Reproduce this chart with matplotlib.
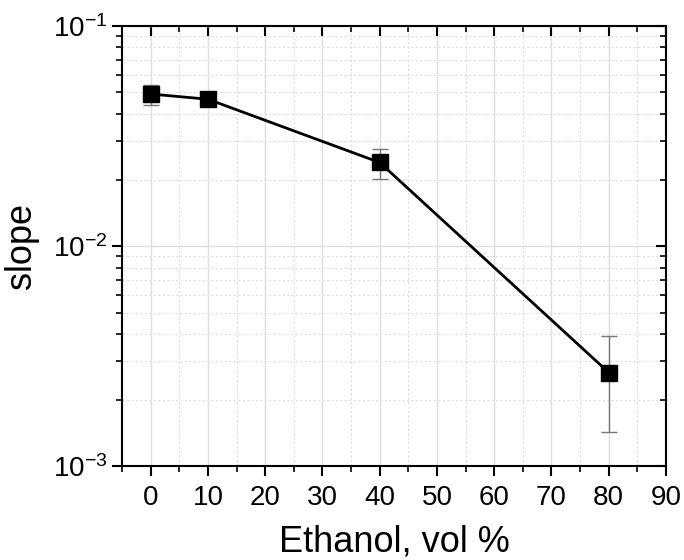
import numpy as np
import matplotlib
matplotlib.use("Agg")
import matplotlib.pyplot as plt
from matplotlib.ticker import MultipleLocator, LogLocator, NullFormatter

plt.rcParams['font.family'] = ['Liberation Sans', 'DejaVu Sans']
plt.rcParams['mathtext.fontset'] = 'custom'
plt.rcParams['mathtext.rm'] = 'Liberation Sans'
plt.rcParams['mathtext.it'] = 'Liberation Sans'

# data
ethanol = [0, 10, 40, 80]
slope = [0.0491, 0.0465, 0.0240, 0.00267]
err_lo = [0.0051, 0.0, 0.0037, 0.00124]
err_hi = [0.0047, 0.0, 0.0035, 0.00126]

fig = plt.figure(figsize=(6.84, 5.6), dpi=100)
ax = fig.add_axes([0.1784, 0.167, 0.7953, 0.7866])

ax.errorbar(ethanol, slope, yerr=[err_lo, err_hi], fmt='none', ecolor='#777777',
            elinewidth=1, capsize=6, capthick=1, zorder=2)
ax.plot(ethanol, slope, '-', color='black', lw=2, zorder=3)
ax.plot(ethanol, slope, 's', color='black', ms=12, zorder=4)

ax.set_yscale('log')
ax.set_xlim(-5, 90)
ax.set_ylim(1e-3, 1e-1)

ax.xaxis.set_major_locator(MultipleLocator(10))
ax.xaxis.set_minor_locator(MultipleLocator(5))
ax.yaxis.set_major_locator(LogLocator(base=10, numticks=10))
ax.yaxis.set_minor_locator(LogLocator(base=10, subs=np.arange(2, 10), numticks=20))
ax.yaxis.set_minor_formatter(NullFormatter())

ax.grid(True, which='major', color='#dddddd', lw=1, ls='-')
ax.grid(True, which='minor', color='#dddddd', lw=0.8, ls=(0, (2, 2)))
ax.set_axisbelow(True)

ax.tick_params(axis='both', which='major', labelsize=20, width=1.5, length=7, direction='out')
ax.tick_params(axis='x', which='major', pad=6)
ax.tick_params(axis='both', which='minor', width=1.2, length=4, direction='out')
ax.tick_params(top=True, right=True, which='both')
ax.tick_params(axis='x', which='both', labeltop=False)
ax.tick_params(axis='y', which='both', labelright=False)
# top and right ticks point inward
for t in ax.xaxis.get_major_ticks() + ax.xaxis.get_minor_ticks():
    t.tick2line.set_marker(matplotlib.lines.TICKDOWN)
for t in ax.yaxis.get_major_ticks() + ax.yaxis.get_minor_ticks():
    t.tick2line.set_marker(matplotlib.lines.TICKLEFT)

for s in ax.spines.values():
    s.set_linewidth(1.5)

ax.set_xlabel('Ethanol, vol %', fontsize=26, labelpad=10)
ax.set_ylabel('slope', fontsize=26, labelpad=10)

fig.savefig('out.png', dpi=100)
